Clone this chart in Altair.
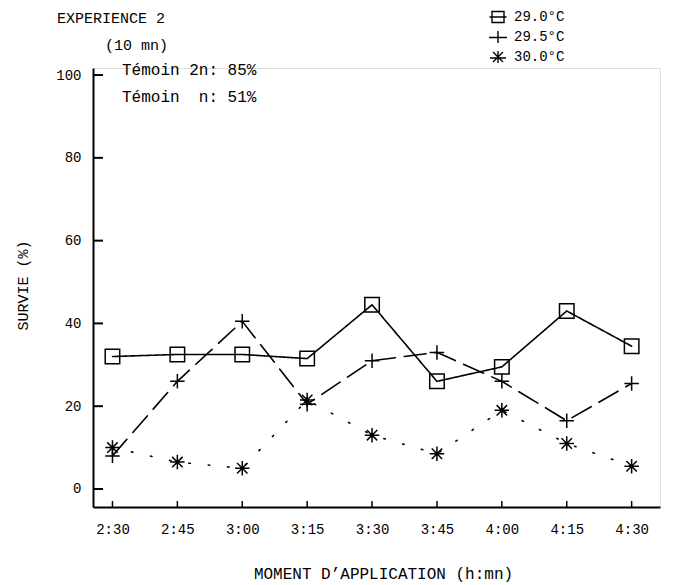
import json
import altair as alt
import pandas as pd

# Moments d'application (axe des x) et séries de température
moments = ["2:30", "2:45", "3:00", "3:15", "3:30", "3:45", "4:00", "4:15", "4:30"]
series = ["29.0°C", "29.5°C", "30.0°C"]

# Survie (%) par moment d'application
survie_290 = [32, 32.5, 32.5, 31.5, 44.5, 26, 29.5, 43, 34.5]
survie_295 = [8, 26, 40.5, 20.5, 31, 33, 26, 16.5, 25.5]
survie_300 = [10, 6.5, 5, 21.5, 13, 8.5, 19, 11, 5.5]

y_ticks = [0, 20, 40, 60, 80, 100]
notes = ["EXPERIENCE 2", "(10 mn)", "Témoin 2n: 85%", "Témoin\u00a0 n: 51%"]

FONT = "Liberation Mono"
W, H = 567, 439

rows = []
for serie, vals in zip(series, [survie_290, survie_295, survie_300]):
    for i, (m, v) in enumerate(zip(moments, vals)):
        rows.append({"idx": i, "moment": m, "serie": serie, "legende": serie, "survie": v})
df = pd.DataFrame(rows)

x_scale = alt.Scale(domain=[-0.30, 8.437], nice=False, zero=False)
y_scale = alt.Scale(domain=[-4.35, 101.7], nice=False, zero=False)

label_expr = json.dumps(moments) + "[datum.value]"

x_enc = alt.X(
    "idx:Q",
    scale=x_scale,
    axis=alt.Axis(
        values=list(range(len(moments))),
        labelExpr=label_expr,
        ticks=False,
        tickSize=0,
        grid=False,
        domainWidth=2,
        domainColor="black",
        labelFont=FONT,
        labelFontSize=14,
        labelColor="black",
        labelPadding=15,
        title="MOMENT D’APPLICATION (h:mn)",
        titleFont=FONT,
        titleFontSize=16,
        titleFontWeight="normal",
        titleColor="black",
        titleX=290,
        titleY=66,
        titleBaseline="middle",
    ),
)
y_enc = alt.Y(
    "survie:Q",
    scale=y_scale,
    axis=alt.Axis(
        values=y_ticks,
        ticks=False,
        tickSize=0,
        grid=False,
        domainWidth=2,
        domainColor="black",
        labelFont=FONT,
        labelFontSize=14,
        labelColor="black",
        labelPadding=12,
        title="SURVIE (%)",
        titleFont=FONT,
        titleFontSize=15,
        titleFontWeight="normal",
        titleColor="black",
        titleAngle=-90,
        titleX=-71,
        titleY=217,
        titleAlign="center",
        titleBaseline="middle",
    ),
)

dash_scale = alt.Scale(domain=series, range=[[1, 0], [22, 9], [1.5, 18]])
width_scale = alt.Scale(domain=series, range=[1.6, 1.6, 2.6])

lines = alt.Chart(df).mark_line(color="black", strokeCap="round").encode(
    x=x_enc,
    y=y_enc,
    detail="serie:N",
    strokeDash=alt.StrokeDash("serie:N", scale=dash_scale, legend=None),
    strokeWidth=alt.StrokeWidth("serie:N", scale=width_scale, legend=None),
)

marker_paths = [
    "M-1,-1H1V1H-1Z",
    "M-1,0H1M0,-1V1",
    "M-1,0H1M0,-1V1M-0.72,-0.72L0.72,0.72M-0.72,0.72L0.72,-0.72",
]
points = alt.Chart(df).mark_point(filled=False, color="black", strokeWidth=1.5, size=210, opacity=1).encode(
    x="idx:Q",
    y="survie:Q",
    shape=alt.Shape("serie:N", scale=alt.Scale(domain=series, range=marker_paths), legend=None),
)

# Legend symbols: marker with a short line segment through it
legend_paths = [
    "M-0.6,-0.55H0.6V0.55H-0.6Z M-0.85,0H0.85",
    "M-0.9,0.05H0.9M0,-0.6V0.6",
    "M-0.8,0.1H0.8M0,-0.6V0.6M-0.5,-0.5L0.5,0.5M-0.5,0.5L0.5,-0.5",
]
legend_layer = alt.Chart(df).mark_point(filled=False, color="black", strokeWidth=1.4, opacity=0).encode(
    x="idx:Q",
    y="survie:Q",
    shape=alt.Shape(
        "legende:N",
        scale=alt.Scale(domain=series, range=legend_paths),
        legend=alt.Legend(
            title=None,
            orient="none",
            legendX=394,
            legendY=-62,
            symbolSize=400,
            symbolStrokeWidth=1.4,
            symbolStrokeColor="black",
            symbolFillColor="transparent",
            symbolOpacity=1,
            labelFont=FONT,
            labelFontSize=14,
            labelColor="black",
            labelOffset=5,
            rowPadding=0,
            padding=0,
        ),
    ),
)

# Inward tick marks on both axes
tick_df = pd.DataFrame({"v": y_ticks})
y_ticks_layer = alt.Chart(tick_df).mark_rule(color="black", strokeWidth=2).encode(
    y=alt.Y("v:Q", scale=y_scale), x=alt.value(0), x2=alt.value(10)
)
xtick_df = pd.DataFrame({"i": list(range(len(moments)))})
x_ticks_layer = alt.Chart(xtick_df).mark_rule(color="black", strokeWidth=1.5).encode(
    x=alt.X("i:Q", scale=x_scale), y=alt.value(H), y2=alt.value(H - 6)
)

# Annotation texts
note_pos = [(-36, -50, 15), (12, -23, 15), (29, 2, 16), (29, 29, 16)]
note_layers = []
for txt, (px, py, fs) in zip(notes, note_pos):
    nd = pd.DataFrame({"t": [txt]})
    note_layers.append(
        alt.Chart(nd).mark_text(align="left", baseline="middle", font=FONT, fontSize=fs, color="black").encode(
            text="t:N", x=alt.value(px), y=alt.value(py)
        )
    )

chart = alt.layer(
    lines, points, legend_layer, y_ticks_layer, x_ticks_layer, *note_layers
).resolve_scale(shape="independent").properties(
    width=W,
    height=H,
    autosize=alt.AutoSizeParams(type="none"),
    padding={"left": 93, "top": 68, "right": 13, "bottom": 78},
).configure_view(stroke=None).configure(background="white")

chart.save("out.html", embed_options={"renderer": "svg", "actions": False})
